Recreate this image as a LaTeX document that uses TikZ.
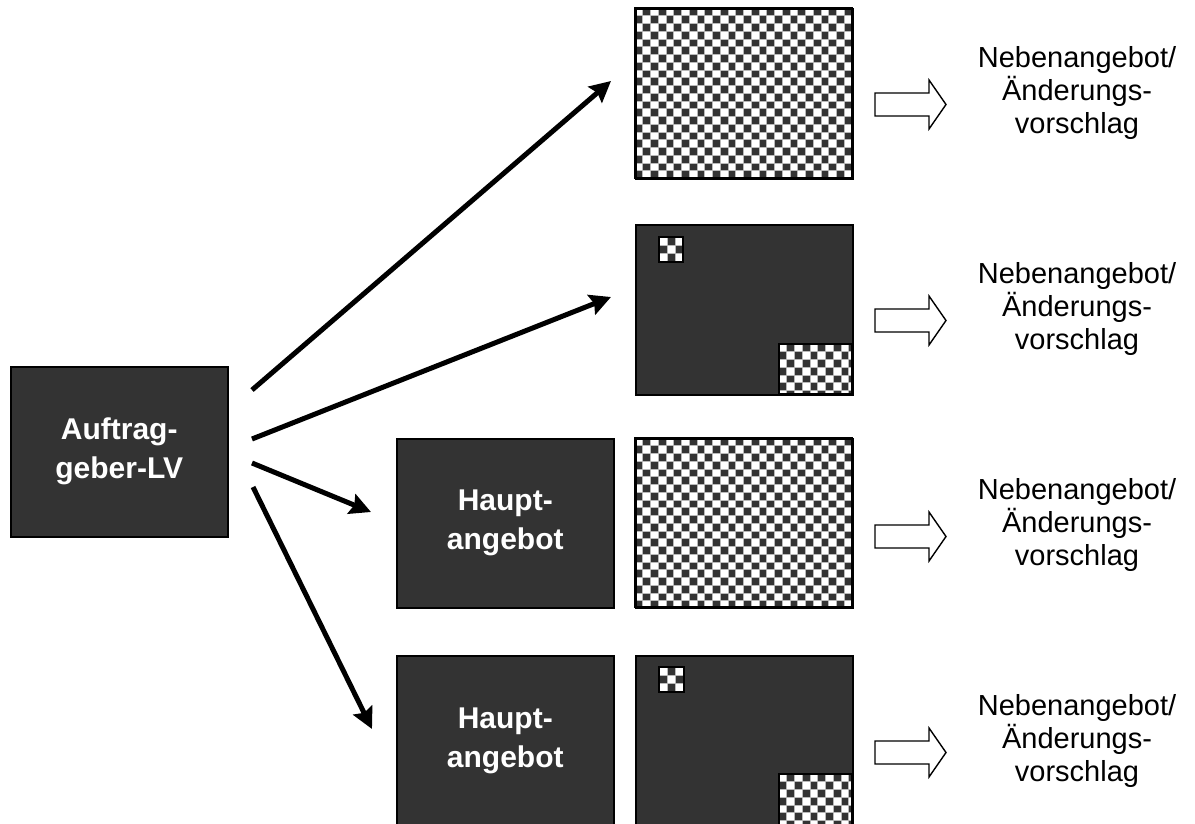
\documentclass[tikz,border=0pt]{standalone}
\usepackage{fontspec}
\setmainfont{Liberation Sans}
\usetikzlibrary{arrows.meta}
\definecolor{panel}{HTML}{333333}

\tikzset{
  panelbox/.style={draw=black, line width=1.5pt, fill=panel, anchor=north west,
    minimum width=217pt, minimum height=170pt, inner sep=0pt, text=white,
    font=\bfseries\fontsize{30}{39}\selectfont, align=center},
  framebox/.style={draw=black, line width=1.8pt, anchor=north west,
    minimum width=217pt, minimum height=170pt, inner sep=0pt},
  flow/.style={line width=5pt, -{Stealth[length=21pt,width=21pt,inset=3pt]}},
  hollow/.style={draw=black, line width=1.4pt, fill=white, line join=miter},
  note/.style={font=\fontsize{29}{33}\selectfont, align=center},
}

% checkerboard inside a rectangle: #1 x0, #2 y0, #3 x1, #4 y1, #5 cell size
\newcommand\checkerfill[5]{%
  \begin{scope}
    \clip (#1,#2) rectangle (#3,#4);
    \fill[white] (#1,#2) rectangle (#3,#4);
    \pgfmathtruncatemacro\ncols{ceil((#3-#1)/#5)}
    \pgfmathtruncatemacro\nrows{ceil((#4-#2)/#5)}
    \foreach \i in {0,...,\ncols}{
      \foreach \j in {0,...,\nrows}{
        \pgfmathtruncatemacro\cpar{mod(\i+\j,2)}
        \ifnum\cpar=1
          \fill[panel, draw=gray!55, line width=0.6pt]
            ({#1+\i*#5},{#2+\j*#5}) rectangle ++(#5,#5);
        \fi
      }
    }
  \end{scope}
  \draw[line width=1.8pt] (#1,#2) rectangle (#3,#4);
}

% hollow block arrow centred vertically on #1
\newcommand\blockarrow[1]{%
  \draw[hollow] (875,{#1-11.5}) -- (929,{#1-11.5}) -- (929,{#1-24.5})
    -- (946,#1) -- (929,{#1+24.5}) -- (929,{#1+11.5}) -- (875,{#1+11.5}) -- cycle;
}

\begin{document}
\begin{tikzpicture}[x=1pt, y=-1pt]
  \useasboundingbox (0,0) rectangle (1195,823);
  \clip (0,0) rectangle (1195,823);

  % source
  \node[panelbox] (auf) at (10,366) {Auftrag-\\geber-LV};

  % main offers
  \node[panelbox, minimum height=169pt] (h3) at (396,438) {Haupt-\\angebot};
  \node[panelbox] (h4) at (396,655) {Haupt-\\angebot};

  % row 1: fully patterned
  \checkerfill{635}{8}{852}{178}{7.75}
  \node[framebox] (c1) at (635,8) {};

  % row 2: dark with two patterned patches
  \node[panelbox] (c2) at (635,224) {};
  \checkerfill{659}{237}{683}{262}{8.2}
  \checkerfill{779}{344}{852}{394}{7.75}

  % row 3: fully patterned
  \checkerfill{635}{438}{852}{607}{7.75}
  \node[framebox, minimum height=169pt] (c3) at (635,438) {};

  % row 4: dark with two patterned patches
  \node[panelbox] (c4) at (635,655) {};
  \checkerfill{659}{667}{684}{692}{8.3}
  \checkerfill{779}{774}{852}{825}{7.75}

  % connectors
  \coordinate (s1) at (252,390); \coordinate (e1) at (611,81);
  \coordinate (s2) at (252,439); \coordinate (e2) at (611,297);
  \coordinate (s3) at (252,463); \coordinate (e3) at (371,512);
  \coordinate (s4) at (253,487); \coordinate (e4) at (372,729);
  \draw[flow] (s1) -- (e1);
  \draw[flow] (s2) -- (e2);
  \draw[flow] (s3) -- (e3);
  \draw[flow] (s4) -- (e4);

  % block arrows and labels
  \foreach \yy/\nm in {104.5/n1, 320.5/n2, 536.5/n3, 752.5/n4}{
    \blockarrow{\yy}
    \node[note] (\nm) at (1077,{\yy-12}) {Nebenangebot/\\Änderungs-\\vorschlag};
  }
\end{tikzpicture}
\end{document}
